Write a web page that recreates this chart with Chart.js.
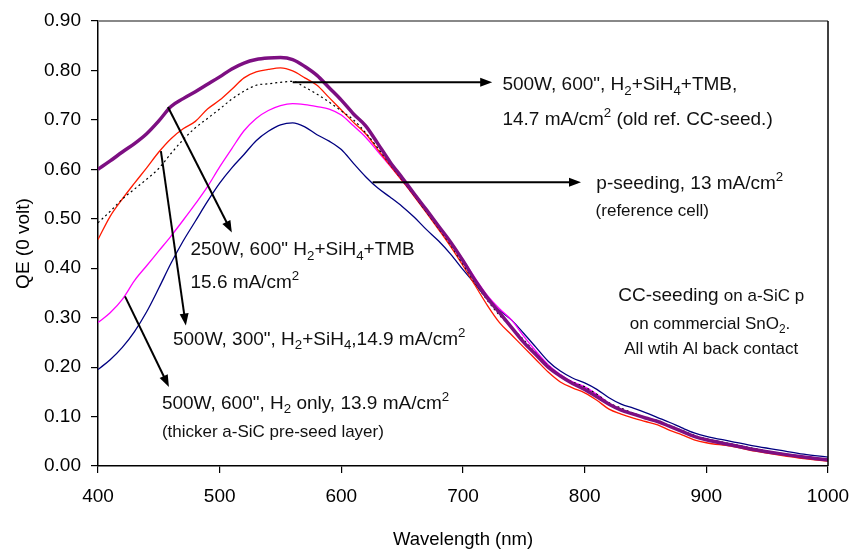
<!DOCTYPE html>
<html>
<head>
<meta charset="utf-8">
<script src="https://cdn.jsdelivr.net/npm/chart.js@4.4.1/dist/chart.umd.min.js"></script>
<style>
  html, body { margin: 0; padding: 0; background: #fff; }
  #wrap { width: 852px; height: 553px; }
</style>
</head>
<body>
<div id="wrap"><canvas id="qe" width="852" height="553"></canvas></div>
<script>
// wavelength (nm) – shared x values
const wavelength = [400,410,420,430,440,450,460,470,480,490,500,510,520,530,540,550,560,570,580,590,
  600,610,620,630,640,650,660,670,680,690,700,710,720,730,740,750,760,770,780,790,
  800,810,820,830,840,850,860,870,880,890,900,920,940,960,980,1000];

// 500W, 600", H2+SiH4+TMB, 14.7 mA/cm2 (old ref, thick purple)
const qeOldRef = [0.600,0.617,0.635,0.652,0.672,0.698,0.727,0.743,0.757,0.772,0.787,0.803,0.815,0.822,0.825,0.826,0.822,0.808,0.790,0.765,
  0.740,0.712,0.688,0.652,0.615,0.583,0.550,0.518,0.485,0.452,0.415,0.375,0.340,0.310,0.280,0.250,0.225,0.200,0.182,0.167,
  0.155,0.140,0.125,0.113,0.105,0.097,0.090,0.080,0.070,0.060,0.053,0.043,0.033,0.025,0.018,0.012];

// 250W, 600" H2+SiH4+TMB, 15.6 mA/cm2 (red)
const qe250W = [0.458,0.505,0.540,0.572,0.603,0.635,0.662,0.682,0.697,0.722,0.740,0.762,0.785,0.797,0.802,0.805,0.799,0.785,0.770,0.745,
  0.720,0.695,0.672,0.640,0.608,0.577,0.545,0.512,0.478,0.443,0.405,0.365,0.325,0.290,0.265,0.240,0.215,0.190,0.170,0.158,
  0.148,0.133,0.115,0.105,0.097,0.090,0.083,0.072,0.063,0.053,0.047,0.040,0.030,0.022,0.015,0.010];

// p-seeding, 13 mA/cm2 (reference cell, dotted)
const qePSeed = [0.492,0.515,0.540,0.560,0.580,0.602,0.632,0.660,0.684,0.703,0.722,0.742,0.758,0.770,0.773,0.776,0.778,0.766,0.752,0.736,
  0.718,0.700,0.674,0.643,0.610,0.578,0.546,0.513,0.480,0.446,0.408,0.370,0.335,0.305,0.280,0.255,0.228,0.203,0.183,0.170,
  0.160,0.145,0.128,0.117,0.107,0.098,0.092,0.082,0.072,0.062,0.055,0.045,0.035,0.026,0.019,0.013];

// 500W, 300", H2+SiH4, 14.9 mA/cm2 (magenta)
const qe500W300 = [0.290,0.310,0.337,0.375,0.405,0.435,0.465,0.497,0.530,0.565,0.605,0.642,0.678,0.703,0.719,0.729,0.733,0.731,0.727,0.722,
  0.710,0.688,0.665,0.636,0.607,0.577,0.546,0.515,0.484,0.452,0.418,0.380,0.345,0.318,0.295,0.262,0.232,0.205,0.185,0.170,
  0.160,0.145,0.127,0.115,0.105,0.097,0.090,0.080,0.070,0.060,0.053,0.044,0.034,0.026,0.019,0.013];

// 500W, 600", H2 only, 13.9 mA/cm2 (navy)
const qeH2Only = [0.195,0.215,0.240,0.272,0.312,0.360,0.410,0.455,0.495,0.535,0.572,0.603,0.630,0.658,0.677,0.690,0.694,0.686,0.670,0.657,
  0.640,0.612,0.585,0.562,0.544,0.525,0.503,0.478,0.455,0.428,0.397,0.368,0.338,0.315,0.295,0.268,0.240,0.212,0.192,0.178,
  0.168,0.155,0.138,0.125,0.117,0.108,0.098,0.088,0.077,0.067,0.060,0.050,0.040,0.032,0.024,0.018];

const FONT = '"Liberation Sans", Arial, sans-serif';
const BIG = 19, SMALL = 17;

// annotation arrows, in data units [x0, y0, x1, y1]
const arrows = [
  [560, 0.776, 724, 0.776],
  [625.7, 0.574, 797, 0.574],
  [457.5, 0.726, 510, 0.472],
  [451.7, 0.637, 472.2, 0.284],
  [422.2, 0.343, 458.3, 0.160],
];

// annotation text: _{} subscript, ^{} superscript, ~{} smaller inline
const notes = [
  { x: 732.4, y: 0.774, text: '500W, 600", H_{2}+SiH_{4}+TMB,', size: BIG },
  { x: 732.4, y: 0.703, text: '14.7 mA/cm^{2} (old ref. CC-seed.)', size: BIG },
  { x: 809.6, y: 0.574, text: 'p-seeding, 13 mA/cm^{2}', size: BIG },
  { x: 809.0, y: 0.519, text: '(reference cell)', size: SMALL },
  { x: 476.0, y: 0.440, text: '250W, 600" H_{2}+SiH_{4}+TMB', size: BIG },
  { x: 476.0, y: 0.373, text: '15.6 mA/cm^{2}', size: BIG },
  { x: 461.6, y: 0.259, text: '500W, 300", H_{2}+SiH_{4},14.9 mA/cm^{2}', size: BIG },
  { x: 452.5, y: 0.130, text: '500W, 600", H_{2} only, 13.9 mA/cm^{2}', size: BIG },
  { x: 452.5, y: 0.071, text: '(thicker a-SiC pre-seed layer)', size: SMALL },
  { x: 904, y: 0.347, text: 'CC-seeding ~{on a-SiC p}', size: BIG, align: 'center' },
  { x: 903, y: 0.290, text: 'on commercial SnO_{2}.', size: SMALL, align: 'center' },
  { x: 904, y: 0.239, text: 'All wtih Al back contact', size: SMALL, align: 'center' },
];

function parseRich(str) {
  const out = [];
  const re = /([_^~])\{([^}]*)\}|([^_^~]+)/g;
  let m;
  while ((m = re.exec(str))) {
    if (m[3]) out.push({ t: m[3], k: 'n' });
    else out.push({ t: m[2], k: m[1] });
  }
  return out;
}

function drawRich(ctx, str, x, yMid, size, align) {
  const segs = parseRich(str);
  const fs = k => k === 'n' ? size : k === '~' ? SMALL : size * 0.7;
  let total = 0;
  for (const s of segs) {
    ctx.font = fs(s.k) + 'px ' + FONT;
    s.w = ctx.measureText(s.t).width;
    total += s.w;
  }
  if (align === 'center') x -= total / 2;
  const base = yMid + size * 0.36;
  ctx.textBaseline = 'alphabetic';
  ctx.textAlign = 'left';
  for (const s of segs) {
    ctx.font = fs(s.k) + 'px ' + FONT;
    const dy = s.k === '_' ? size * 0.24 : s.k === '^' ? -size * 0.42 : 0;
    ctx.fillText(s.t, x, base + dy);
    x += s.w;
  }
}

function drawArrow(ctx, x0, y0, x1, y1) {
  const ang = Math.atan2(y1 - y0, x1 - x0);
  const len = 12, half = 4.5;
  ctx.beginPath();
  ctx.moveTo(x0, y0);
  ctx.lineTo(x1 - Math.cos(ang) * len * 0.8, y1 - Math.sin(ang) * len * 0.8);
  ctx.stroke();
  ctx.beginPath();
  ctx.moveTo(x1, y1);
  ctx.lineTo(x1 - Math.cos(ang) * len - Math.sin(ang) * half, y1 - Math.sin(ang) * len + Math.cos(ang) * half);
  ctx.lineTo(x1 - Math.cos(ang) * len + Math.sin(ang) * half, y1 - Math.sin(ang) * len - Math.cos(ang) * half);
  ctx.closePath();
  ctx.fill();
}

const annotate = {
  id: 'annotate',
  afterDatasetsDraw(chart) {
    const { ctx, chartArea: a, scales: { x, y } } = chart;
    ctx.save();
    // frame: grey top, black right
    ctx.lineWidth = 2;
    ctx.strokeStyle = '#888';
    ctx.beginPath(); ctx.moveTo(a.left, a.top); ctx.lineTo(a.right, a.top); ctx.stroke();
    ctx.lineWidth = 1.5;
    ctx.strokeStyle = '#000';
    ctx.beginPath(); ctx.moveTo(a.right, a.top); ctx.lineTo(a.right, a.bottom); ctx.stroke();

    ctx.strokeStyle = '#000';
    ctx.fillStyle = '#000';
    ctx.lineWidth = 2;
    for (const [x0, y0, x1, y1] of arrows) {
      drawArrow(ctx, x.getPixelForValue(x0), y.getPixelForValue(y0), x.getPixelForValue(x1), y.getPixelForValue(y1));
    }
    ctx.fillStyle = '#111';
    for (const n of notes) {
      drawRich(ctx, n.text, x.getPixelForValue(n.x), y.getPixelForValue(n.y), n.size, n.align);
    }
    ctx.restore();
  }
};

function series(vals, color, width, order, dash) {
  return {
    data: wavelength.map((w, i) => ({ x: w, y: vals[i] })),
    borderColor: color,
    borderWidth: width,
    borderDash: dash || [],
    pointRadius: 0,
    cubicInterpolationMode: 'monotone',
    fill: false,
    order,
  };
}

Chart.defaults.font.family = FONT;
Chart.defaults.color = '#000';

new Chart(document.getElementById('qe'), {
  type: 'line',
  data: {
    datasets: [
      series(qeOldRef, '#7d0f82', 3.5, 0),
      series(qe250W, '#ff1a00', 1.3, 2),
      series(qePSeed, '#000000', 1.2, 1, [2, 3]),
      series(qe500W300, '#ff00ff', 1.3, 3),
      series(qeH2Only, '#000080', 1.3, 4),
    ],
  },
  options: {
    responsive: false,
    animation: false,
    devicePixelRatio: 1,
    layout: { padding: { top: 21, right: 24, left: 0, bottom: 0 } },
    plugins: { legend: { display: false }, tooltip: { enabled: false } },
    scales: {
      x: {
        type: 'linear', min: 400, max: 1000,
        ticks: { stepSize: 100, font: { size: 19 }, padding: 12, color: '#000', maxRotation: 0, callback: v => String(v) },
        grid: { drawOnChartArea: false, drawTicks: true, tickLength: 7, color: '#000', lineWidth: 1.2 },
        border: { color: '#000', width: 1.5 },
        title: { display: true, text: 'Wavelength (nm)', font: { size: 18.5 }, color: '#000', padding: { top: 4, bottom: 2 } },
        afterFit(s) { s.height = 87; s.paddingLeft = 0; s.paddingRight = 0; },
      },
      y: {
        min: 0, max: 0.9,
        ticks: { stepSize: 0.1, font: { size: 19 }, padding: 10, color: '#000', callback: v => v.toFixed(2) },
        grid: { drawOnChartArea: false, drawTicks: true, tickLength: 7, color: '#000', lineWidth: 1.2 },
        border: { color: '#000', width: 1.5 },
        title: { display: true, text: 'QE (0 volt)', font: { size: 19 }, color: '#000', padding: { top: 12, bottom: 0 } },
        afterFit(s) { s.width = 98; s.paddingTop = 0; s.paddingBottom = 0; },
      },
    },
  },
  plugins: [annotate],
});
</script>
</body>
</html>
